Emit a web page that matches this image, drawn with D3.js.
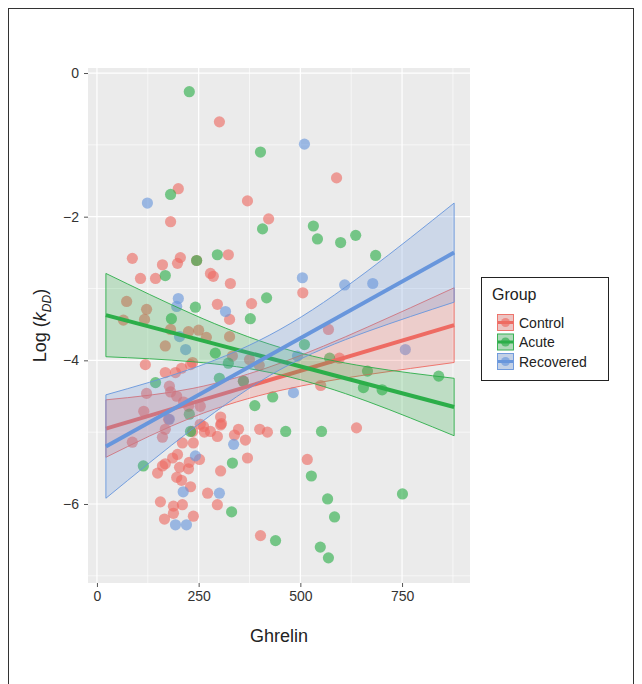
<!DOCTYPE html>
<html>
<head>
<meta charset="utf-8">
<script src="https://cdn.jsdelivr.net/npm/d3@7/dist/d3.min.js"></script>
<style>
  body { margin: 0; background: #fff; }
  text { font-family: "Liberation Sans", Arial, sans-serif; }
</style>
</head>
<body>
<div id="chart"></div>
<script>
'use strict';

// groups and colours
var groups = ['Control', 'Acute', 'Recovered'];
var groupColors = ['#EE6B63', '#2CAE49', '#6896DC'];

// points: [ghrelin, log kDD]
var controlPoints = [
  [301, -0.68], [200, -1.61], [370, -1.78], [422, -2.03], [181, -2.07], [589, -1.46],
  [87, -2.58], [205, -2.57], [198, -2.65], [245, -2.61], [323, -2.53], [161, -2.67],
  [107, -2.86], [144, -2.86], [279, -2.79], [286, -2.83], [328, -2.93], [506, -3.06],
  [296, -3.22], [380, -3.21], [326, -3.43], [569, -3.57], [596, -3.97], [550, -4.35],
  [73, -3.18], [122, -3.29], [117, -3.43], [65, -3.44], [181, -3.57], [225, -3.60],
  [250, -3.58], [168, -3.80], [269, -3.68], [326, -3.67], [333, -3.94], [375, -3.99],
  [399, -4.07], [119, -4.06], [168, -4.17], [193, -4.17], [208, -4.11], [230, -4.06],
  [235, -4.03], [178, -4.36], [181, -4.44], [196, -4.50], [122, -4.46], [115, -4.71],
  [304, -4.79], [306, -4.88], [360, -4.29], [213, -4.58], [225, -4.64], [254, -4.64],
  [176, -4.82], [168, -4.96], [161, -5.07], [400, -4.96], [419, -5.00], [348, -4.96],
  [338, -5.04], [365, -5.11], [370, -5.36], [262, -4.92], [264, -5.00], [279, -4.99],
  [296, -5.06], [304, -4.90], [237, -5.15], [210, -5.15], [87, -5.14], [198, -5.31],
  [186, -5.36], [252, -5.38], [227, -5.42], [225, -5.51], [203, -5.49], [168, -5.44],
  [161, -5.47], [149, -5.57], [208, -5.67], [196, -5.63], [230, -5.76], [304, -5.54],
  [272, -5.85], [296, -6.01], [210, -6.01], [188, -6.03], [188, -6.13], [156, -5.97],
  [166, -6.21], [237, -6.17], [402, -6.44], [638, -4.94], [517, -5.38], [235, -4.99],
  [254, -4.89]
];
var acutePoints = [
  [227, -0.26], [402, -1.10], [181, -1.69], [407, -2.17], [245, -2.61], [296, -2.53],
  [532, -2.13], [542, -2.31], [599, -2.36], [636, -2.26], [685, -2.54], [168, -2.82],
  [242, -3.26], [183, -3.42], [417, -3.13], [377, -3.42], [510, -3.78], [572, -3.97],
  [291, -3.90], [323, -4.04], [301, -4.25], [144, -4.31], [360, -4.29], [388, -4.63],
  [432, -4.51], [227, -4.75], [464, -4.99], [552, -4.99], [665, -4.15], [655, -4.38],
  [701, -4.41], [840, -4.22], [527, -5.61], [751, -5.86], [567, -5.93], [584, -6.18],
  [439, -6.51], [549, -6.60], [569, -6.75], [333, -5.43], [331, -6.11], [114, -5.47],
  [230, -4.99]
];
var recoveredPoints = [
  [124, -1.81], [510, -0.99], [505, -2.85], [609, -2.95], [678, -2.93], [200, -3.14],
  [196, -3.25], [316, -3.32], [203, -3.67], [218, -3.85], [493, -3.94], [758, -3.85],
  [483, -4.45], [336, -5.17], [242, -5.33], [301, -5.85], [220, -6.29], [193, -6.29],
  [212, -5.83], [178, -4.82]
];

// fitted lines (ends) and confidence band edges read at bandX
var fitEnds = [22, 878];
var controlFit = [-4.95, -3.51];
var acuteFit = [-3.37, -4.65];
var recoveredFit = [-5.20, -2.50];
var bandX = [22, 236, 450, 664, 878];
var controlUpper = [-4.55, -4.39, -4.04, -3.54, -2.99];
var controlLower = [-5.35, -4.79, -4.42, -4.20, -4.03];
var acuteUpper = [-2.79, -3.36, -3.82, -4.09, -4.25];
var acuteLower = [-3.95, -4.02, -4.20, -4.57, -5.05];
var recoveredUpper = [-4.48, -4.11, -3.57, -2.76, -1.81];
var recoveredLower = [-5.92, -4.95, -4.13, -3.60, -3.19];

var xTicks = [0, 250, 500, 750];
var xMinor = [125, 375, 625, 875];
var yTicks = [0, -2, -4, -6];
var yMinor = [-1, -3, -5, -7];

var series = [
  { name: groups[0], color: groupColors[0], points: controlPoints, fit: controlFit, upper: controlUpper, lower: controlLower },
  { name: groups[1], color: groupColors[1], points: acutePoints, fit: acuteFit, upper: acuteUpper, lower: acuteLower },
  { name: groups[2], color: groupColors[2], points: recoveredPoints, fit: recoveredFit, upper: recoveredUpper, lower: recoveredLower }
];

var W = 642, H = 684;
var panel = { left: 88, top: 68, right: 470, bottom: 583 };

var svg = d3.select('#chart').append('svg').attr('width', W).attr('height', H);

// outer frame (runs past the bottom of the picture)
svg.append('rect').attr('x', 8.5).attr('y', 8.5).attr('width', 625).attr('height', 690)
  .attr('fill', 'none').attr('stroke', '#333').attr('stroke-width', 1);

var x = d3.scaleLinear().domain([-22, 917]).range([panel.left, panel.right]);
var y = d3.scaleLinear().domain([-7.10, 0.07]).range([panel.bottom, panel.top]);

svg.append('rect').attr('x', panel.left).attr('y', panel.top)
  .attr('width', panel.right - panel.left).attr('height', panel.bottom - panel.top)
  .attr('fill', '#EBEBEB');

var grid = svg.append('g');
grid.selectAll('.vminor').data(xMinor.filter(function (d) { return x(d) < panel.right; })).enter().append('line')
  .attr('x1', function (d) { return x(d); }).attr('x2', function (d) { return x(d); })
  .attr('y1', panel.top).attr('y2', panel.bottom).attr('stroke', '#fff').attr('stroke-width', 0.6);
grid.selectAll('.hminor').data(yMinor).enter().append('line')
  .attr('y1', function (d) { return y(d); }).attr('y2', function (d) { return y(d); })
  .attr('x1', panel.left).attr('x2', panel.right).attr('stroke', '#fff').attr('stroke-width', 0.6);
grid.selectAll('.vmajor').data(xTicks).enter().append('line')
  .attr('x1', function (d) { return x(d); }).attr('x2', function (d) { return x(d); })
  .attr('y1', panel.top).attr('y2', panel.bottom).attr('stroke', '#fff').attr('stroke-width', 1.2);
grid.selectAll('.hmajor').data(yTicks).enter().append('line')
  .attr('y1', function (d) { return y(d); }).attr('y2', function (d) { return y(d); })
  .attr('x1', panel.left).attr('x2', panel.right).attr('stroke', '#fff').attr('stroke-width', 1.2);

// points
var plot = svg.append('g');
series.forEach(function (s) {
  plot.append('g').selectAll('circle').data(s.points).enter().append('circle')
    .attr('cx', function (d) { return x(d[0]); })
    .attr('cy', function (d) { return y(d[1]); })
    .attr('r', 5.6)
    .attr('fill', s.color)
    .attr('fill-opacity', 0.62);
});

// confidence bands and fitted lines
var area = d3.area().curve(d3.curveNatural)
  .x(function (d) { return x(d.x); })
  .y0(function (d) { return y(d.lo); })
  .y1(function (d) { return y(d.hi); });
var edge = d3.line().curve(d3.curveNatural)
  .x(function (d) { return x(d[0]); })
  .y(function (d) { return y(d[1]); });
var fitLine = d3.line()
  .x(function (d) { return x(d[0]); })
  .y(function (d) { return y(d[1]); });

series.forEach(function (s) {
  var band = bandX.map(function (bx, i) { return { x: bx, lo: s.lower[i], hi: s.upper[i] }; });
  var g = plot.append('g');
  g.append('path').attr('d', area(band)).attr('fill', s.color).attr('fill-opacity', 0.24);
  g.append('path').attr('d', edge(bandX.map(function (bx, i) { return [bx, s.upper[i]]; })))
    .attr('fill', 'none').attr('stroke', s.color).attr('stroke-width', 0.9);
  g.append('path').attr('d', edge(bandX.map(function (bx, i) { return [bx, s.lower[i]]; })))
    .attr('fill', 'none').attr('stroke', s.color).attr('stroke-width', 0.9);
  g.append('line')
    .attr('x1', x(fitEnds[0])).attr('x2', x(fitEnds[0]))
    .attr('y1', y(s.lower[0])).attr('y2', y(s.upper[0]))
    .attr('stroke', s.color).attr('stroke-width', 0.9);
  g.append('line')
    .attr('x1', x(fitEnds[1])).attr('x2', x(fitEnds[1]))
    .attr('y1', y(s.lower[bandX.length - 1])).attr('y2', y(s.upper[bandX.length - 1]))
    .attr('stroke', s.color).attr('stroke-width', 0.9);
  g.append('path').attr('d', fitLine([[fitEnds[0], s.fit[0]], [fitEnds[1], s.fit[1]]]))
    .attr('fill', 'none').attr('stroke', s.color).attr('stroke-width', 4);
});

// axes
var xAxis = d3.axisBottom(x).tickValues(xTicks).tickSize(4).tickPadding(4);
var yAxis = d3.axisLeft(y).tickValues(yTicks).tickSize(4).tickPadding(5)
  .tickFormat(function (d) { return d === 0 ? '0' : '\u2212' + Math.abs(d); });

var xg = svg.append('g').attr('transform', 'translate(0,' + panel.bottom + ')').call(xAxis);
var yg = svg.append('g').attr('transform', 'translate(' + panel.left + ',0)').call(yAxis);
[xg, yg].forEach(function (g) {
  g.select('.domain').remove();
  g.selectAll('.tick line').attr('stroke', '#555');
  g.selectAll('.tick text').attr('fill', '#333').style('font-size', '14px');
});

svg.append('text').attr('x', (panel.left + panel.right) / 2).attr('y', 642)
  .attr('text-anchor', 'middle').attr('fill', '#222').style('font-size', '18px').text('Ghrelin');

var yt = svg.append('text')
  .attr('transform', 'translate(46,' + ((panel.top + panel.bottom) / 2) + ') rotate(-90)')
  .attr('text-anchor', 'middle').attr('fill', '#222').style('font-size', '18px');
yt.append('tspan').text('Log (');
yt.append('tspan').style('font-style', 'italic').text('k');
yt.append('tspan').style('font-style', 'italic').style('font-size', '12px').attr('dy', 5).text('DD');
yt.append('tspan').attr('dy', -5).text(')');

// legend
var lg = svg.append('g').attr('transform', 'translate(481,277)');
lg.append('rect').attr('x', 0.5).attr('y', 0.5).attr('width', 127).attr('height', 103)
  .attr('fill', '#fff').attr('stroke', '#222').attr('stroke-width', 1);
lg.append('text').attr('x', 11).attr('y', 23).attr('fill', '#222').style('font-size', '16px').text('Group');
series.forEach(function (s, i) {
  var ky = 37 + i * 19.5;
  var k = lg.append('g').attr('transform', 'translate(16,' + ky + ')');
  k.append('rect').attr('width', 17).attr('height', 17).attr('fill', '#EBEBEB');
  k.append('rect').attr('x', 0.5).attr('y', 0.5).attr('width', 16).attr('height', 16)
    .attr('fill', s.color).attr('fill-opacity', 0.3).attr('stroke', s.color).attr('stroke-width', 0.9);
  k.append('line').attr('x1', 1).attr('x2', 16).attr('y1', 8.5).attr('y2', 8.5)
    .attr('stroke', s.color).attr('stroke-width', 3);
  k.append('circle').attr('cx', 8.5).attr('cy', 8.5).attr('r', 4.5)
    .attr('fill', s.color).attr('fill-opacity', 0.65);
  lg.append('text').attr('x', 38).attr('y', ky + 13.5).attr('fill', '#222')
    .style('font-size', '14px').text(s.name);
});
</script>
</body>
</html>
